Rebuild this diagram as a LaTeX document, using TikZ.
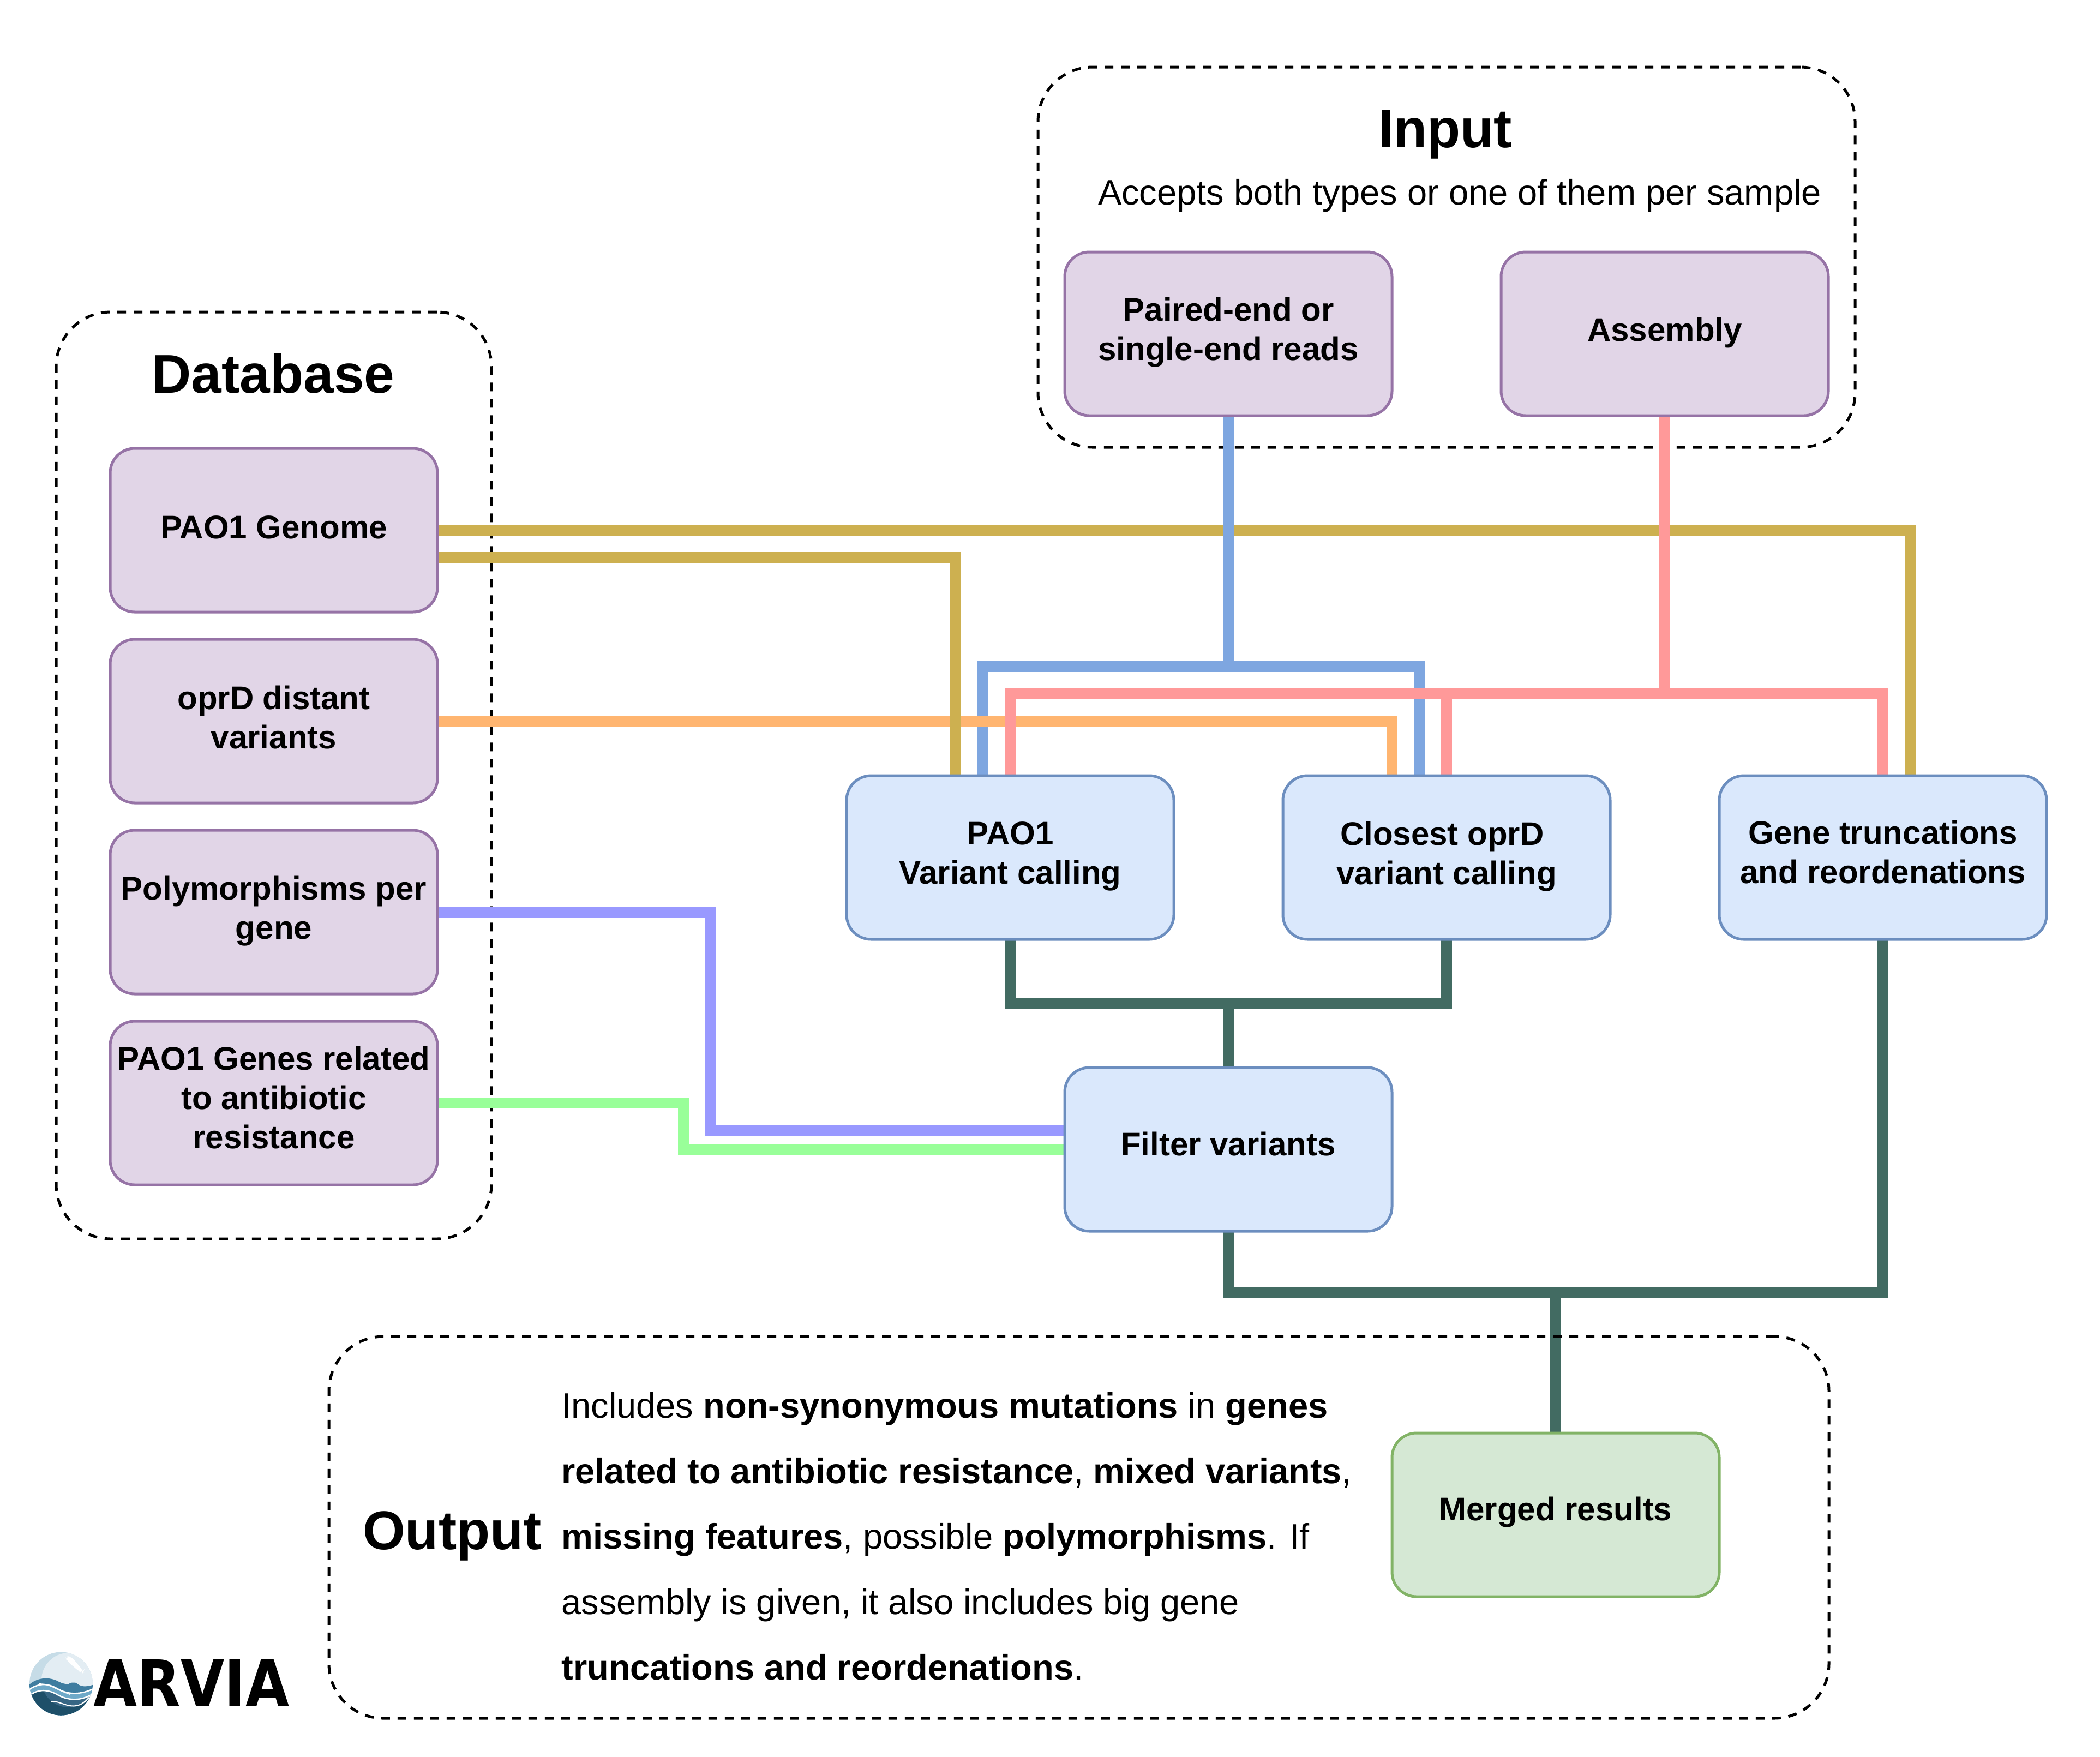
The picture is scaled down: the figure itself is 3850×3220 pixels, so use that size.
\documentclass[tikz,border=0pt]{standalone}
\usepackage{fontspec}
\usepackage{graphicx}
\setmainfont{Liberation Sans}
\newfontfamily\logofont{DejaVu Sans}
\pgfdeclarelayer{cont}
\pgfdeclarelayer{lines}
\pgfsetlayers{cont,lines,main}
\definecolor{pfill}{HTML}{E1D5E7}\definecolor{pline}{HTML}{9673A6}
\definecolor{bfill}{HTML}{DAE8FC}\definecolor{bline}{HTML}{6C8EBF}
\definecolor{gfill}{HTML}{D5E8D4}\definecolor{gline}{HTML}{82B366}
\definecolor{cgold}{HTML}{CDB050}\definecolor{cblue}{HTML}{7EA6E0}
\definecolor{cpink}{HTML}{FF9999}\definecolor{corange}{HTML}{FFB570}
\definecolor{cpurple}{HTML}{9999FF}\definecolor{cgreen}{HTML}{99FF99}
\definecolor{cdark}{HTML}{426B62}
\definecolor{lpale}{HTML}{C6DCE7}\definecolor{llight}{HTML}{E3EDF3}
\definecolor{lmid}{HTML}{3F7DA0}\definecolor{lsky}{HTML}{6FA9C8}
\definecolor{ldark}{HTML}{1E4F69}\definecolor{lslate}{HTML}{376684}
\tikzset{
 x=0.5pt,y=-0.5pt,
 boxbase/.style={rounded corners=22.5pt,minimum width=300pt,minimum height=150pt,line width=2.5pt,
   inner sep=0pt,outer sep=0pt},
 pbox/.style={boxbase,draw=pline,fill=pfill},
 bbox/.style={boxbase,draw=bline,fill=bfill},
 gbox/.style={boxbase,draw=gline,fill=gfill},
 boxtext/.style={align=center,inner sep=0pt,font=\fontsize{30}{36}\selectfont\bfseries},
 cont/.style={draw=black,line width=2.5pt,dash pattern=on 8pt off 7pt,rounded corners=50pt,inner sep=0pt,outer sep=0pt},
 conn/.style={line width=10pt},
 title/.style={font=\fontsize{50}{60}\selectfont\bfseries,inner sep=0pt},
 plain/.style={font=\fontsize{32.5}{39}\selectfont,inner sep=0pt},
}
\begin{document}
\begin{tikzpicture}
\useasboundingbox (0,0) rectangle (3850,3220);
\begin{pgfonlayer}{cont}
\node[cont,minimum width=399pt,minimum height=849.5pt] (dbc) at (502,1421.5) {};
\node[cont,minimum width=749pt,minimum height=348.5pt] (inc) at (2652,471.5) {};
\end{pgfonlayer}
\node[cont,minimum width=1375pt,minimum height=350pt] (outc) at (1978,2800) {};
\node[title] (dbt) at (501,685) {Database};
\node[title] (int) at (2650,246) {Input};
\node[plain] (acc) at (2676,359) {Accepts both types or one of them per sample};
\node[title] (outt) at (829,2816) {Output};
\node[pbox] (genome) at (502,972) {};
\node[pbox] (oprd) at (502,1322) {};
\node[pbox] (poly) at (502,1672) {};
\node[pbox] (genes) at (502,2022) {};
\node[pbox] (paired) at (2252,612) {};
\node[pbox] (assembly) at (3052,612) {};
\node[bbox] (pao) at (1852,1572) {};
\node[bbox] (closest) at (2652,1572) {};
\node[bbox] (trunc) at (3452,1572) {};
\node[bbox] (filter) at (2252,2107) {};
\node[gbox] (merged) at (2852,2777) {};
\node[boxtext] (genomet) at ([yshift=2.5pt]genome.center) {PAO1 Genome};
\node[boxtext] (oprdt) at ([yshift=3.7pt]oprd.center) {oprD distant\\variants};
\node[boxtext] (polyt) at ([yshift=1.2pt]poly.center) {Polymorphisms per\\gene};
\node[boxtext] (genest) at ([yshift=4.9pt]genes.center) {PAO1 Genes related\\to antibiotic\\resistance};
\node[boxtext] (pairedt) at ([yshift=1.2pt]paired.center) {Paired-end or\\single-end reads};
\node[boxtext] (assemblyt) at ([yshift=1.2pt]assembly.center) {Assembly};
\node[boxtext] (paot) at ([yshift=1.2pt]pao.center) {PAO1\\Variant calling};
\node[boxtext] (closestt) at ([yshift=1.2pt]closest.center) {Closest oprD\rule{8.3pt}{0pt}\\variant calling};
\node[boxtext] (trunct) at ([yshift=4.9pt]trunc.center) {Gene truncations\\and reordenations};
\node[boxtext] (filtert) at ([yshift=4.9pt]filter.center) {Filter variants};
\node[boxtext] (mergedt) at ([yshift=2.5pt]merged.center) {Merged results};
\node[plain,anchor=west,align=left,font=\fontsize{32.5}{60}\selectfont] (para) at (1029,2816) {Includes \textbf{non-synonymous mutations} in \textbf{genes}\\
\textbf{related to antibiotic resistance}, \textbf{mixed variants},\\
\textbf{missing features}, possible \textbf{polymorphisms}. If\\
assembly is given, it also includes big gene\\
\textbf{truncations and reordenations}.};
\coordinate (bj) at (2252,1222);
\coordinate (pj) at (3052,1272);
\coordinate (dj) at (2252,1840);
\coordinate (ej) at (2852,2370);
\coordinate (vp) at (1303,2072);
\coordinate (vg) at (1253,2107);
\begin{pgfonlayer}{lines}
\draw[conn,cgold] (genome.east) -| ([xshift=25pt]trunc.north);
\draw[conn,cblue] (paired.south) -- (bj);
\draw[conn,cblue] (bj) -| ([xshift=-25pt]pao.north);
\draw[conn,cblue] (bj) -| ([xshift=-25pt]closest.north);
\draw[conn,corange] (oprd.east) -| ([xshift=-50pt]closest.north);
\draw[conn,cgold] ([yshift=-25pt]genome.east) -| ([xshift=-50pt]pao.north);
\draw[conn,cpink] (assembly.south) -- (pj);
\draw[conn,cpink] (pj) -| (pao.north);
\draw[conn,cpink] (pj) -| (closest.north);
\draw[conn,cpink] (pj) -| (trunc.north);
\draw[conn,cpurple] (poly.east) -| (vp) -- ([yshift=17.5pt]filter.west);
\draw[conn,cgreen] (genes.east) -| (vg) -- (filter.west);
\draw[conn,cdark] (pao.south) |- (dj);
\draw[conn,cdark] (closest.south) |- (dj);
\draw[conn,cdark] (dj) -- (filter.north);
\draw[conn,cdark] (filter.south) |- (ej);
\draw[conn,cdark] (trunc.south) |- (ej);
\draw[conn,cdark] (ej) -- (merged.north);
\end{pgfonlayer}
% logo
\begin{scope}
\clip (112,3086.5) circle[radius=58];
\fill[lpale] (50,3025) rectangle (175,3150);
\fill[llight] (126,3080) circle[radius=50];
\fill[lmid] (50,3092) .. controls (62,3078) and (84,3072) .. (104,3081)
  .. controls (112,3085) and (118,3088) .. (126,3087) .. controls (130,3084) and (134,3084) .. (140,3085)
  .. controls (146,3092) and (158,3094) .. (175,3087) -- (175,3150) -- (50,3150) -- cycle;
\fill[lsky] (50,3100) .. controls (70,3084) and (88,3086) .. (104,3095)
  .. controls (124,3107) and (148,3108) .. (175,3094) -- (175,3150) -- (50,3150) -- cycle;
\draw[white,line width=1.2pt] (50,3100) .. controls (70,3084) and (88,3086) .. (104,3095)
  .. controls (124,3107) and (148,3108) .. (175,3094);
\draw[white,line width=0.8pt] (72,3087) .. controls (90,3086) and (104,3098) .. (128,3106);
\fill[ldark] (50,3112) .. controls (66,3096) and (86,3096) .. (104,3106)
  .. controls (124,3118) and (150,3120) .. (175,3102) -- (175,3150) -- (50,3150) -- cycle;
\begin{scope}
\clip (126,3080) circle[radius=50];
\fill[lslate] (50,3112) .. controls (66,3096) and (86,3096) .. (104,3106)
  .. controls (124,3118) and (150,3120) .. (175,3102) -- (175,3150) -- (50,3150) -- cycle;
\end{scope}
\draw[white,line width=1.2pt] (50,3112) .. controls (66,3096) and (86,3096) .. (104,3106)
  .. controls (124,3118) and (150,3120) .. (175,3102);
\draw[white,line width=1pt] (93,3119) .. controls (110,3118) and (122,3130) .. (140,3127) .. controls (150,3125) and (156,3120) .. (165,3110);
\end{scope}
\fill[white,rounded corners=4pt] (120,3037) -- (130,3036) -- (150,3060) -- (153,3064) -- (152,3066) -- (146,3065) -- (122,3044) -- cycle;
\node[inner sep=0pt,anchor=base west] (arvia) at (171,3128) {\resizebox{179.5pt}{43pt}{\fontsize{59}{60}\logofont\bfseries ARVIA}};
\end{tikzpicture}
\end{document}
